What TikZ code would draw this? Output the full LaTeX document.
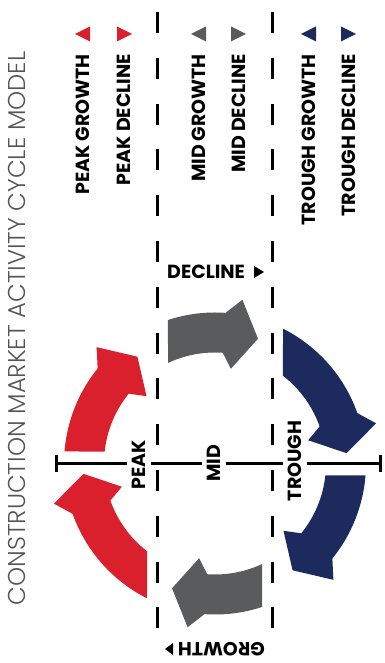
\documentclass[tikz,border=0pt]{standalone}
\usepackage{fontspec}
\setsansfont{Poppins}
\newfontfamily\titlefont{Poppins Light}
\newfontfamily\lblfont{Poppins Bold}
\usetikzlibrary{arrows.meta}
\definecolor{cred}{RGB}{218,31,45}
\definecolor{cgray}{RGB}{90,91,93}
\definecolor{cnavy}{RGB}{29,42,94}
\definecolor{ctitle}{RGB}{85,85,85}
\newcommand{\ringarrow}[6]{%
  \fill[#1] (#2:151pt) arc[start angle=#2, end angle=#4, radius=151pt]
    -- (#5:166pt) -- (#6:132pt) -- (#5:96pt) -- (#4:111pt)
    arc[start angle=#4, end angle=#3, radius=111pt] -- cycle;}
\begin{document}
\begin{tikzpicture}[x=1pt,y=1pt,
  lbl/.style={font=\lblfont\fontsize{19}{20}\selectfont, inner sep=0pt},
  leg/.style={lbl, rotate=90, anchor=east},
  axlbl/.style={lbl, rotate=90, fill=white, inner xsep=2pt, inner ysep=5pt},
  divider/.style={line width=3pt, dash pattern=on 21pt off 24.8pt},
]
\useasboundingbox[fill=white] (0,0) rectangle (384,663);

% title
\node[font=\titlefont\fontsize{24.3}{25}\selectfont, text=ctitle, rotate=90, inner sep=0pt] (title) at (17,334.5)
  {CONSTRUCTION MARKET ACTIVITY CYCLE MODEL};

% legend
\node[leg] (pg) at (82.5,609) {PEAK GROWTH};
\node[leg] (pd) at (124,609) {PEAK DECLINE};
\node[leg] (mg) at (198.5,609) {MID GROWTH};
\node[leg] (md) at (238.5,609) {MID DECLINE};
\node[leg] (tg) at (308.5,609) {TROUGH GROWTH};
\node[leg] (td) at (348.5,609) {TROUGH DECLINE};
\fill[cred]  (75,629) -- (90,636.5) -- (90,621.5) -- cycle;
\fill[cred]  (132,629) -- (117,636.5) -- (117,621.5) -- cycle;
\fill[cgray] (191,629) -- (206,636.5) -- (206,621.5) -- cycle;
\fill[cgray] (246,629) -- (231,636.5) -- (231,621.5) -- cycle;
\fill[cnavy] (301,629) -- (316,636.5) -- (316,621.5) -- cycle;
\fill[cnavy] (356,629) -- (341,636.5) -- (341,621.5) -- cycle;

% dashed dividers
\draw[divider] (157.5,651) -- (157.5,35);
\draw[divider] (272,651) -- (272,35);

% ring arrows
\begin{scope}[shift={(215,199.5)}]
  \ringarrow{cred}{175.44}{173.80}{141}{135.5}{126}
  \ringarrow{cgray}{108.14}{115.05}{86}{80.5}{71}
  \ringarrow{cnavy}{63.23}{52.24}{19.5}{14}{4.5}
  \begin{scope}[rotate=180]
    \ringarrow{cnavy}{175.44}{173.80}{141}{135.5}{126}
    \ringarrow{cgray}{108.14}{115.05}{86}{80.5}{71}
    \ringarrow{cred}{63.23}{52.24}{19.5}{14}{4.5}
  \end{scope}
\end{scope}

% axis
\coordinate (axl) at (55,199.5);
\coordinate (axr) at (382,199.5);
\draw[line width=3pt, {Bar[width=17pt]}-{Bar[width=17pt]}] (axl) -- (axr);
\node[axlbl] (peak) at (139,198) {PEAK};
\node[axlbl] (mid) at (214,199.5) {MID};
\node[axlbl] (trough) at (295,202) {TROUGH};

% direction labels
\node[lbl, anchor=west] (decl) at (167,391) {DECLINE};
\fill (254,397) -- (264,391) -- (254,385) -- cycle;
\node[lbl, rotate=180, anchor=west] (grow) at (265,14) {GROWTH};
\fill (165,14) -- (173,20) -- (173,8) -- cycle;
\end{tikzpicture}
\end{document}
